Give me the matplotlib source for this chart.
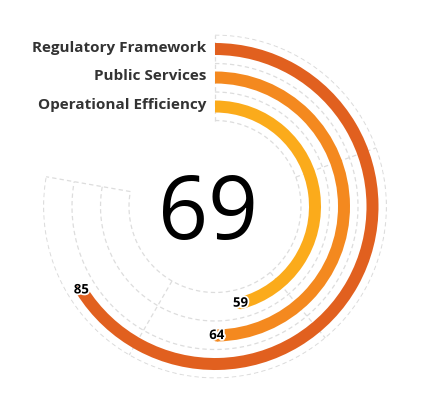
import matplotlib
matplotlib.use('Agg')
import matplotlib.pyplot as plt
import matplotlib.patheffects as pe
import numpy as np

# Data
categories = ['Regulatory Framework', 'Public Services', 'Operational Efficiency']
values = [85, 64, 59]
center_value = 69
colors = ['#e1601f', '#f4891f', '#fbab1b']
grid_values = [0, 25, 50, 75, 100]

# Geometry (pixels, since dpi=100 and radius axis spans 0-172)
deg_per_unit = 2.8          # 100 -> 280 degrees
bar_r = [157.5, 129, 100]   # radius of each ring
bar_h = 12
ring_edges = [86, 114.5, 143, 171.5]
grid_color = '#dddddd'
dash = (0, (3.5, 2.5))


def theta(v):
    return np.deg2rad(np.asarray(v, dtype=float) * deg_per_unit)


fig = plt.figure(figsize=(4.48, 4.0), dpi=100)
plt.rcParams['font.family'] = ['Open Sans', 'DejaVu Sans']
ax = fig.add_axes([43 / 448, 21.5 / 400, 344 / 448, 344 / 400], projection='polar')
ax.set_theta_zero_location('N')
ax.set_theta_direction(-1)
ax.set_ylim(0, 172)
ax.set_xticks([])
ax.set_yticks([])
ax.grid(False)
ax.spines['polar'].set_visible(False)
ax.patch.set_alpha(0)

# dashed ring outlines
th = np.linspace(0, theta(grid_values[-1]), 300)
for rb in ring_edges:
    ax.plot(th, np.full_like(th, rb), ls=dash, color=grid_color, lw=0.9, zorder=1)
# dashed radial split lines
for gv in grid_values:
    t = theta(gv)
    ax.plot([t, t], [ring_edges[0], ring_edges[-1]], ls=dash, color=grid_color, lw=0.9, zorder=1)

# bars
ax.barh(bar_r, theta(values), left=0, height=bar_h, color=colors, zorder=3)
# rounded ends
cap = (bar_h * 72 / 100) ** 2
ax.scatter(theta(values), bar_r, s=cap, c=colors, zorder=3, linewidths=0)

# value labels at bar ends
for v, r in zip(values, bar_r):
    ax.text(theta(v), r, str(v), ha='center', va='center', fontsize=9.5,
            fontweight='bold', color='black', zorder=5,
            path_effects=[pe.withStroke(linewidth=2.5, foreground='white')])

# category labels left of the ring start
for cat, r in zip(categories, bar_r):
    ax.annotate(cat, xy=(0, r), xytext=(-9, -3), textcoords='offset pixels',
                ha='right', va='baseline', fontsize=11, fontweight='bold',
                color='#333333')

# big centre number
ax.annotate(str(center_value), xy=(0, 0), xytext=(-7, -32), textcoords='offset pixels',
            ha='center', va='baseline', fontsize=63, color='black')

fig.savefig('out.png', dpi=100)
